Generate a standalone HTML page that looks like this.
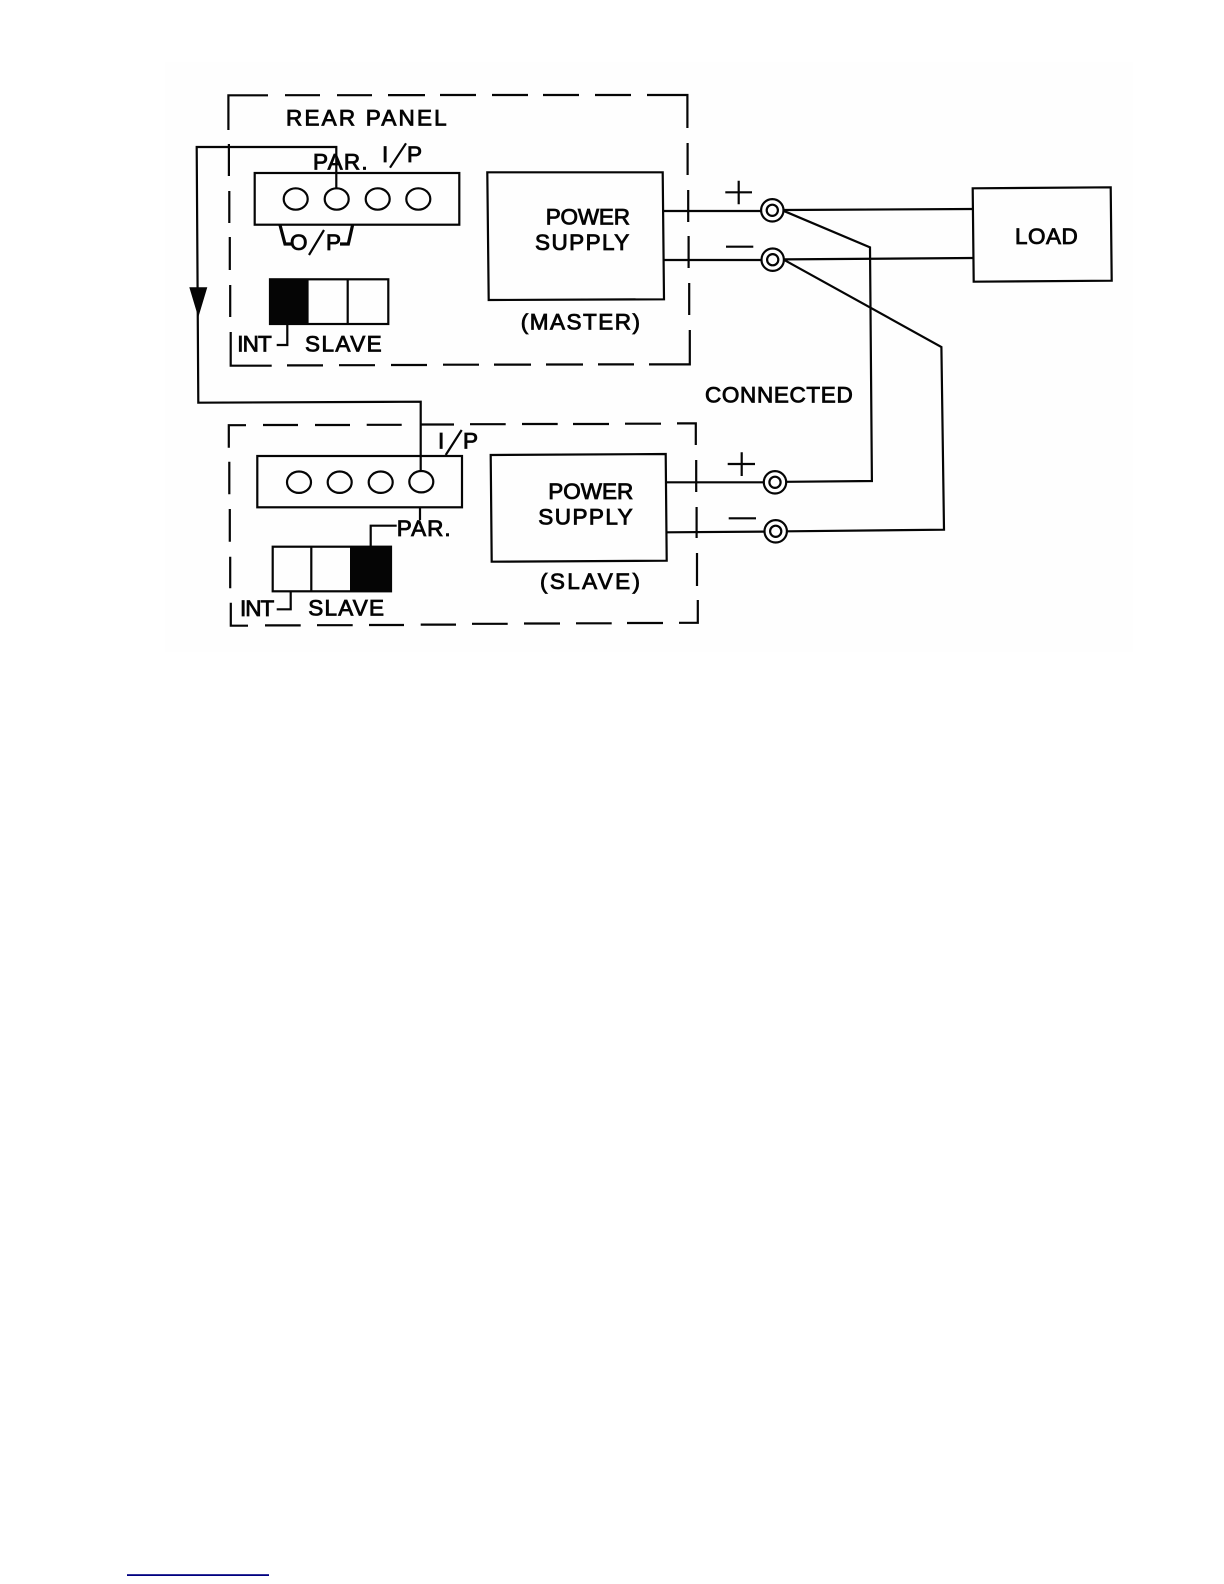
<!DOCTYPE html>
<html lang="en">
<head>
<meta charset="utf-8">
<title>Parallel connection diagram</title>
<style>
html,body{margin:0;padding:0;background:#fff;width:1224px;height:1584px;overflow:hidden}
svg{display:block}
.l{fill:none;stroke:#050505;stroke-width:2.2;stroke-linejoin:miter}
.t{font-family:"Liberation Sans",sans-serif;font-size:22.5px;fill:#050505;stroke:#050505;stroke-width:.85}
</style>
</head>
<body>
<svg width="1224" height="1584" viewBox="0 0 1224 1584" xmlns="http://www.w3.org/2000/svg">
<rect x="0" y="0" width="1224" height="1584" fill="#ffffff"/>
<rect x="165" y="62" width="968" height="590" fill="#fefefe"/>

<!-- Master dashed frame -->
<path class="l" d="M228.4 130V95.3H268M285 95.2H320M337 95.2H372M388 95.1H425M440 95H476M492 95H528M543 95H579M595 95H631M647 95H687.4V128
M687.6 143V175M688.2 190V222M688.6 236V268M689.2 283V315M689.8 330V364.4H649M634 364.4H598M583 364.5H546M531 364.6H494M479 364.7H443M427 365H391M375 365.2H339M323 365.4H287M271.7 365.7H230.7V332
M230.2 317V285M229.8 270V237M229.3 223V191M228.9 176V144"/>

<!-- Slave dashed frame -->
<path class="l" d="M228.8 447.7V425.2H246M263 425H298M315 425H350M366.7 424.8H401.7M420 424.5H454M470 424.2H505.7M522 424H557.7M573 424H609M625 423.7H661M677 423.4H695.8V445
M696.2 460V492M696.6 507V538M697 553V586M697.8 600V622.8H679M663 623H627M611.7 623.3H576M560 623.5H524M507.7 623.8H472M456 624.6H420.7M404 625H369M352.7 625.2H317M300.7 625.4H265M248 625.7H230.8V602.7
M230.2 588.3V556.7M229.8 541.7V509M229.3 494.3V461.7"/>

<!-- Master connector block -->
<rect class="l" x="254.7" y="173" width="204.6" height="51.7"/>
<ellipse class="l" cx="295.7" cy="199" rx="12" ry="10.7"/>
<ellipse class="l" cx="336.7" cy="199" rx="12" ry="10.7"/>
<ellipse class="l" cx="377.7" cy="199" rx="12" ry="10.7"/>
<ellipse class="l" cx="418.3" cy="199" rx="12" ry="10.7"/>
<path class="l" style="stroke-width:3.2" d="M280 225L285 244H291.5M352.7 224.5L348.3 244H340"/>

<!-- Master DIP switch -->
<rect class="l" x="270" y="279.3" width="118.3" height="44.7"/>
<rect x="270" y="279.3" width="38.6" height="44.7" fill="#050505"/>
<path class="l" d="M347.7 279.3V324M287.3 324V345H276.7"/>

<!-- Slave connector block -->
<rect class="l" x="257.3" y="456" width="204.7" height="51.3"/>
<ellipse class="l" cx="299" cy="482.2" rx="12" ry="10.7"/>
<ellipse class="l" cx="339.7" cy="482.2" rx="12" ry="10.7"/>
<ellipse class="l" cx="380.7" cy="482.2" rx="12" ry="10.7"/>
<ellipse class="l" cx="421.3" cy="481.7" rx="12" ry="10.7"/>
<path class="l" d="M420 507.3V520M396.7 525.7H370.7V546"/>

<!-- Slave DIP switch -->
<rect class="l" x="272.7" y="546.7" width="118.3" height="44.6"/>
<rect x="350" y="546.7" width="41" height="44.6" fill="#050505"/>
<path class="l" d="M311.3 546.7V591.3M290.7 591.3V609.3H276.7"/>

<!-- Slashes -->
<path class="l" d="M390 167.7L406 143.3M309 255L324 230M445.7 455L461.7 430"/>

<!-- Signal wire with arrow -->
<path class="l" d="M336.3 188V147H196.7L198.3 402.7L420.7 401.7V470.8"/>
<path d="M189.3 287.3H207.3L198.3 317.3Z" fill="#050505"/>

<!-- Power supply boxes -->
<path class="l" d="M487.3 172.3H662.7L664 299.3L488.7 300Z"/>
<path class="l" d="M490.7 455L665.7 454L666.7 560.7L491.7 561.7Z"/>

<!-- Load -->
<path class="l" d="M972.7 188.3L1110.7 187.3L1111.7 280.7L973.7 281.7Z"/>

<!-- Output wiring -->
<path class="l" d="M664 211H760.6M664.4 260H761M666 482.3H763.2M666.7 532.3L764 531.6"/>
<path class="l" d="M784 210L972.7 209M784 259.4L973 258"/>
<path class="l" d="M783.5 210.8L870 247.3L871.9 481L787 481.8"/>
<path class="l" d="M783.5 259.6L941.4 347L944 529.7L787.4 531.3"/>

<!-- Terminals -->
<circle class="l" cx="772.3" cy="210.3" r="11.2" style="fill:#fff"/>
<circle class="l" cx="772.3" cy="210.3" r="5.6"/>
<circle class="l" cx="772.7" cy="259.7" r="11.2" style="fill:#fff"/>
<circle class="l" cx="772.7" cy="259.7" r="5.6"/>
<circle class="l" cx="775" cy="482.3" r="11.2" style="fill:#fff"/>
<circle class="l" cx="775" cy="482.3" r="5.6"/>
<circle class="l" cx="775.7" cy="531.3" r="11.2" style="fill:#fff"/>
<circle class="l" cx="775.7" cy="531.3" r="5.6"/>

<!-- Plus / minus signs -->
<path class="l" d="M725.3 192.3H752M738.7 180.7V204.3M726 246.7H753.3M727.7 464H755M741.7 452.3V476M728.7 518.3H756"/>

<!-- Labels -->
<text class="t" x="286" y="125.7" textLength="160.7" lengthAdjust="spacing">REAR  PANEL</text>
<text class="t" x="313" y="169.3" textLength="54.7" lengthAdjust="spacing">PAR.</text>
<text class="t" x="382" y="162">I</text>
<text class="t" x="407" y="162">P</text>
<text class="t" x="290" y="250">O</text>
<text class="t" x="326" y="250">P</text>
<text class="t" x="237.3" y="351.7" textLength="34.4" lengthAdjust="spacing">INT</text>
<text class="t" x="305" y="351.7" textLength="76.7" lengthAdjust="spacing">SLAVE</text>
<text class="t" x="545.7" y="224.3" textLength="84.3" lengthAdjust="spacing">POWER</text>
<text class="t" x="535" y="250" textLength="94.3" lengthAdjust="spacing">SUPPLY</text>
<text class="t" x="520.7" y="329.3" textLength="119.3" lengthAdjust="spacing">(MASTER)</text>
<text class="t" x="1015" y="244" textLength="62.7" lengthAdjust="spacing">LOAD</text>
<text class="t" x="705" y="402.3" textLength="147.7" lengthAdjust="spacing">CONNECTED</text>
<text class="t" x="438" y="448.3">I</text>
<text class="t" x="463" y="448.3">P</text>
<text class="t" x="396.7" y="536" textLength="54" lengthAdjust="spacing">PAR.</text>
<text class="t" x="240" y="616" textLength="34.3" lengthAdjust="spacing">INT</text>
<text class="t" x="308.3" y="615.5" textLength="75.7" lengthAdjust="spacing">SLAVE</text>
<text class="t" x="548.3" y="499" textLength="85" lengthAdjust="spacing">POWER</text>
<text class="t" x="538.3" y="524.3" textLength="94.4" lengthAdjust="spacing">SUPPLY</text>
<text class="t" x="540" y="589" textLength="100" lengthAdjust="spacing">(SLAVE)</text>

<!-- Footer rule -->
<rect x="127" y="1574.2" width="142" height="1.8" fill="#000080"/>
</svg>
</body>
</html>
